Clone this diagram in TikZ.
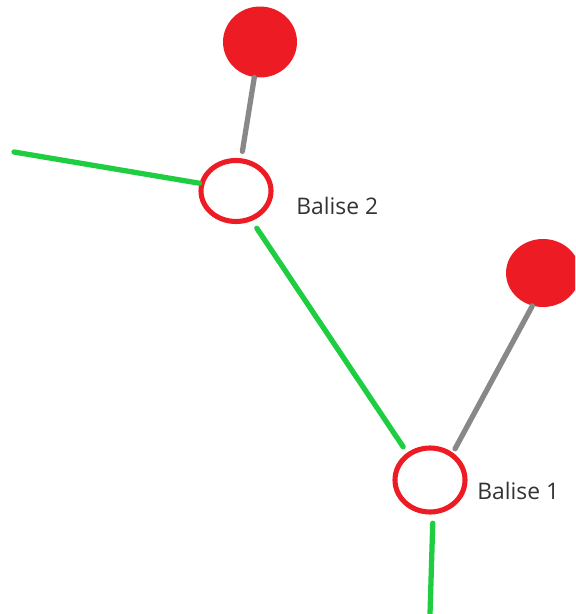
\documentclass[tikz,border=0pt]{standalone}
\usepackage{fontspec}
\setsansfont{Open Sans}
\usetikzlibrary{shapes.geometric}
\definecolor{balred}{RGB}{237,28,36}
\definecolor{trackgreen}{RGB}{30,206,64}
\definecolor{stemgray}{RGB}{136,136,136}

\tikzset{
	balise/.style={ellipse, draw=balred, line width=2.9pt, minimum width=1.4cm, minimum height=1.22cm, inner sep=0pt},
	signal/.style={ellipse, fill=balred, minimum width=1.48cm, minimum height=1.42cm, inner sep=0pt},
	track/.style={trackgreen, line width=3pt, line cap=round},
	stem/.style={stemgray, line width=3pt, line cap=round},
	lbl/.style={font=\sffamily\fontsize{13}{15}\selectfont, text=black!80, inner sep=0pt, anchor=base west}
}

\begin{document}
\begin{tikzpicture}[x=0.02cm, y=-0.02cm]
			%%%%% START %%%%%
			\useasboundingbox (0,0) rectangle (575,614);
			\clip (0,0) rectangle (575,614);
			
			\node[signal] (r1) at (260,42) {};
			\node[signal, minimum height=1.36cm] (r2) at (543,273) {};
			
			\node[balise] (b2) at (236,191) {};
			\node[balise, minimum height=1.28cm] (b1) at (430,480) {};
			
			\coordinate (g0) at (14,152);
			\coordinate (g3) at (430,614);
			
			\draw[stem, shorten <=4pt] (b2) -- (r1);
			\draw[stem, shorten <=2.5pt] (b1.50) -- (r2.252);
			
			\draw[track] (g0) -- (b2.168);
			\draw[track, shorten <=5pt, shorten >=4pt] (b2.-62) -- (b1.130);
			\draw[track, shorten <=5pt] (b1.-85) -- (g3);
			
			\node[lbl] (l2) at (296,215) {Balise 2};
			\node[lbl] (l1) at (477,499) {Balise 1};
			%%%%% END %%%%%
\end{tikzpicture}
\end{document}
